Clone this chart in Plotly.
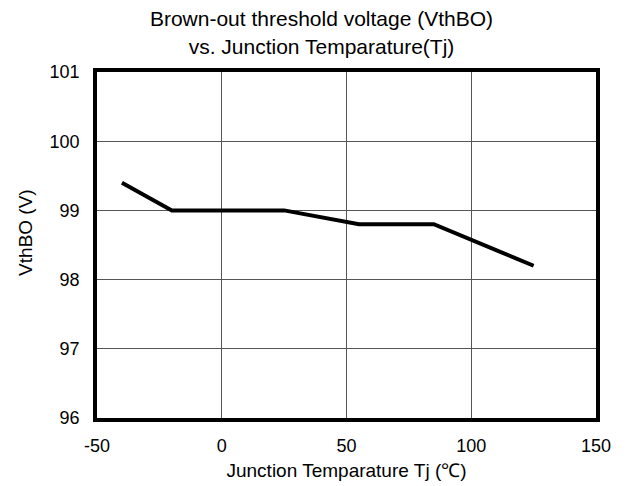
import plotly.graph_objects as go

temp_c = [-40, -20, 25, 55, 85, 125]
vthbo_v = [99.4, 99.0, 99.0, 98.8, 98.8, 98.2]
x_ticks = [-50, 0, 50, 100, 150]
x_tick_text = ["-50", "0", "50", "100", "150"]
y_ticks = [96, 97, 98, 99, 100, 101]
y_tick_text = ["96", "97", "98", "99", "100", "101"]

FF = "Liberation Sans, Arial, sans-serif"

fig = go.Figure()
fig.add_trace(go.Scatter(x=temp_c, y=vthbo_v, mode="lines",
                         line=dict(color="black", width=4), showlegend=False))

fig.update_layout(
    width=627, height=486,
    margin=dict(l=89, r=39, t=64, b=76),
    paper_bgcolor="white", plot_bgcolor="white",
    font=dict(family=FF, size=18, color="black"),
    title=dict(text="Brown-out threshold voltage (VthBO)<br>vs. Junction Temparature(Tj)",
               x=0.5, xref="container", xanchor="center",
               y=0.962, yref="container", yanchor="top",
               font=dict(family=FF, size=21, color="black")),
    annotations=[dict(text="VthBO (V)", textangle=-90, xref="paper", yref="paper",
                      x=0, y=0.535, xanchor="center", yanchor="middle", xshift=-71,
                      showarrow=False, font=dict(family=FF, size=19, color="black"))],
)
fig.update_xaxes(range=[-50, 150], tickvals=x_ticks, ticktext=x_tick_text, ticks="",
                 ticklabelstandoff=9, showgrid=True,
                 gridcolor="#555555", gridwidth=1, showline=True, linecolor="black",
                 linewidth=3.5, mirror=True, zeroline=False, automargin=False,
                 title=dict(text="Junction Temparature Tj (℃)", standoff=9,
                            font=dict(family=FF, size=19)))
fig.update_yaxes(range=[96, 101], tickvals=y_ticks, ticktext=y_tick_text, ticks="",
                 ticklabelstandoff=10, showgrid=True,
                 gridcolor="#555555", gridwidth=1, showline=True, linecolor="black",
                 linewidth=3.5, mirror=True, zeroline=False, automargin=False)

fig.write_html("out.html")
